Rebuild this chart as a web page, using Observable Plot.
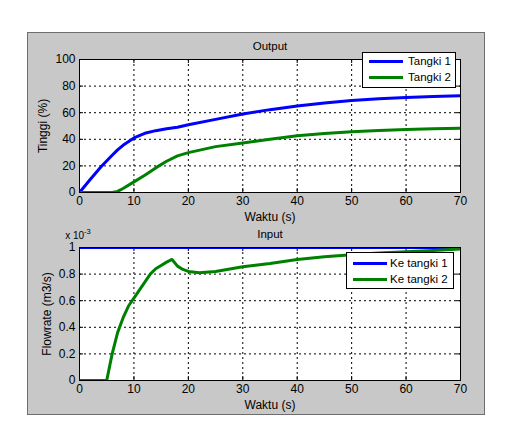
<!DOCTYPE html>
<html>
<head>
<meta charset="utf-8">
<script src="https://cdn.jsdelivr.net/npm/d3@7"></script>
<script src="https://cdn.jsdelivr.net/npm/@observablehq/plot@0.6"></script>
<style>
  html, body { margin: 0; padding: 0; background: #fff; }
  #page { position: relative; width: 507px; height: 446px; background: #fff; overflow: hidden;
          font-family: "Liberation Sans", Arial, sans-serif; }
  #fig { position: absolute; left: 27px; top: 32px; width: 458px; height: 383px; box-sizing: border-box;
         background: #c8c8c8; border: 1px solid #6e6e6e; }
  .sub { position: absolute; left: 0; }
  .sub svg { overflow: visible; background: transparent; }
  .legend { position: absolute; background: #fff; border: 1px solid #000; box-sizing: border-box;
            font-size: 11.5px; color: #000; }
  .legend .row { position: absolute; display: flex; align-items: center; }
  .legend .swatch { height: 3px; }
  .legend .lab { line-height: 12px; white-space: nowrap; }
</style>
</head>
<body>
<div id="page">
  <div id="fig"></div>
</div>
<script>
// ---------- data ----------
// Output subplot: water level (%)
const timeOut = [0, 2, 4, 6, 7, 8, 10, 12, 14, 16, 18, 20, 25, 30, 35, 40, 45, 50, 55, 60, 65, 70];
const tangki1 = [0, 10, 19.5, 28, 32, 35.5, 41, 44.5, 46.5, 48, 49, 51, 55, 59, 62.3, 65, 67.3, 69.2, 70.5, 71.5, 72.2, 72.7];
const tangki2 = [0, 0, 0, 0, 0.8, 3, 8, 13, 18.5, 23.5, 27.5, 30, 34.5, 37.2, 40, 42.6, 44.3, 45.6, 46.6, 47.4, 48, 48.4];

// Input subplot: flowrate, in units of 1e-3 m3/s
const timeIn = [0, 5, 6, 7, 8, 9, 10, 11, 12, 13, 14, 15, 16, 17, 18, 19, 20, 22, 25, 30, 35, 40, 45, 50, 55, 60, 65, 70];
const keTangki1 = timeIn.map(() => 1);
const keTangki2 = [0, 0, 0.2, 0.36, 0.47, 0.56, 0.62, 0.68, 0.74, 0.8, 0.84, 0.865, 0.89, 0.91, 0.86, 0.835, 0.82, 0.81, 0.82, 0.855, 0.88, 0.91, 0.93, 0.945, 0.958, 0.968, 0.978, 0.988];

const xTicks = [0, 10, 20, 30, 40, 50, 60, 70];
const yTicksOut = [0, 20, 40, 60, 80, 100];
const yTicksIn = [0, 0.2, 0.4, 0.6, 0.8, 1];

const seriesOut = ["Tangki 1", "Tangki 2"];
const seriesIn = ["Ke tangki 1", "Ke tangki 2"];
const colors = ["#0000ff", "#008000"];

// ---------- helpers ----------
const FONT = "Liberation Sans, Arial, sans-serif";

function subplot({times, series, names, yDomain, yTicks, yFmt, title, ylabel, ylabelDx, height, mt, mb}) {
  const rows = [];
  series.forEach((vals, i) => vals.forEach((v, j) => rows.push({t: times[j], v, s: names[i]})));
  const ySpan = yDomain[1] - yDomain[0];
  const plotH = height - mt - mb;
  const tickLenY = 4 / plotH * ySpan;
  const tickLenX = 4 / 381 * 70;
  return Plot.plot({
    width: 507, height,
    marginLeft: 79, marginRight: 47, marginTop: mt, marginBottom: mb,
    style: {fontFamily: FONT, fontSize: "12px", color: "#000", background: "transparent", overflow: "visible"},
    x: {domain: [0, 70], ticks: xTicks, label: null},
    y: {domain: yDomain, ticks: yTicks, label: null},
    color: {domain: names, range: colors},
    marks: [
      Plot.frame({fill: "#fff", stroke: "none"}),
      Plot.gridX(xTicks.slice(1, -1), {stroke: "#000", strokeOpacity: 1, strokeDasharray: "2,3", strokeWidth: 1}),
      Plot.gridY(yTicks.slice(1, -1), {stroke: "#000", strokeOpacity: 1, strokeDasharray: "2,3", strokeWidth: 1}),
      Plot.ruleX(xTicks, {x: d => d, y1: yDomain[0], y2: yDomain[0] + tickLenY, stroke: "#000"}),
      Plot.ruleX(xTicks, {x: d => d, y1: yDomain[1], y2: yDomain[1] - tickLenY, stroke: "#000"}),
      Plot.ruleY(yTicks, {y: d => d, x1: 0, x2: tickLenX, stroke: "#000"}),
      Plot.ruleY(yTicks, {y: d => d, x1: 70, x2: 70 - tickLenX, stroke: "#000"}),
      Plot.line(rows, {x: "t", y: "v", z: "s", stroke: "s", strokeWidth: 3, clip: true, strokeLinejoin: "round", strokeLinecap: "butt"}),
      Plot.frame({stroke: "#000", strokeWidth: 1, fill: "none"}),
      Plot.axisX({ticks: xTicks, tickSize: 0, tickPadding: 4, fontSize: 12, label: null}),
      Plot.axisY({ticks: yTicks, tickSize: 0, tickPadding: 4, tickFormat: yFmt, fontSize: 12, label: null}),
      Plot.text([title], {frameAnchor: "top", lineAnchor: "middle", textAnchor: "middle", dy: -13, text: d => d, fontSize: 11.5}),
      Plot.text(["Waktu (s)"], {frameAnchor: "bottom", lineAnchor: "middle", textAnchor: "middle", dy: 25, text: d => d, fontSize: 12}),
      Plot.text([ylabel], {frameAnchor: "left", lineAnchor: "middle", textAnchor: "middle", dx: ylabelDx, rotate: -90, text: d => d, fontSize: 12})
    ]
  });
}

const page = document.getElementById("page");

// Top subplot
const topChart = subplot({
  times: timeOut, series: [tangki1, tangki2], names: seriesOut,
  yDomain: [0, 100], yTicks: yTicksOut, yFmt: d => String(d),
  title: "Output", ylabel: "Tinggi (%)", ylabelDx: -36, height: 223, mt: 59, mb: 31
});
const topDiv = document.createElement("div");
topDiv.className = "sub"; topDiv.style.top = "0px";
topDiv.appendChild(topChart);
page.appendChild(topDiv);

// Bottom subplot
const bottomChart = subplot({
  times: timeIn, series: [keTangki1, keTangki2], names: seriesIn,
  yDomain: [0, 1], yTicks: yTicksIn, yFmt: d => (d === 0 || d === 1) ? String(d) : d.toFixed(1),
  title: "Input", ylabel: "Flowrate (m3/s)", ylabelDx: -32, height: 223, mt: 24, mb: 66
});
const botDiv = document.createElement("div");
botDiv.className = "sub"; botDiv.style.top = "223px";
botDiv.appendChild(bottomChart);
page.appendChild(botDiv);

// Exponent label "x 10^-3" (text element in the bottom svg)
{
  const svg = d3.select(bottomChart);
  const t = svg.append("text")
    .attr("x", 78).attr("y", 16)
    .attr("font-family", FONT).attr("font-size", 10).attr("fill", "#000");
  t.append("tspan").text("x 10");
  t.append("tspan").attr("dy", -5).attr("font-size", 7.5).text("-3");
}

// Legends
function legend(names, left, topY, w, h, lineX0, lineX1, rowYs, textX) {
  const box = document.createElement("div");
  box.className = "legend";
  Object.assign(box.style, {left: left + "px", top: topY + "px", width: w + "px", height: h + "px"});
  names.forEach((n, i) => {
    const row = document.createElement("div");
    row.className = "row";
    Object.assign(row.style, {left: (lineX0 - left - 1) + "px", top: (rowYs[i] - topY - 8) + "px", height: "14px"});
    const sw = document.createElement("div");
    sw.className = "swatch";
    Object.assign(sw.style, {width: (lineX1 - lineX0) + "px", background: colors[i]});
    const lab = document.createElement("span");
    lab.className = "lab";
    lab.style.marginLeft = (textX - lineX1) + "px";
    lab.textContent = n;
    row.appendChild(sw); row.appendChild(lab);
    box.appendChild(row);
  });
  page.appendChild(box);
}
legend(seriesOut, 362, 52, 94, 36, 369, 403, [61, 77], 408);
legend(seriesIn, 346, 252, 108, 37, 353, 387, [263, 279], 390);
</script>
</body>
</html>
